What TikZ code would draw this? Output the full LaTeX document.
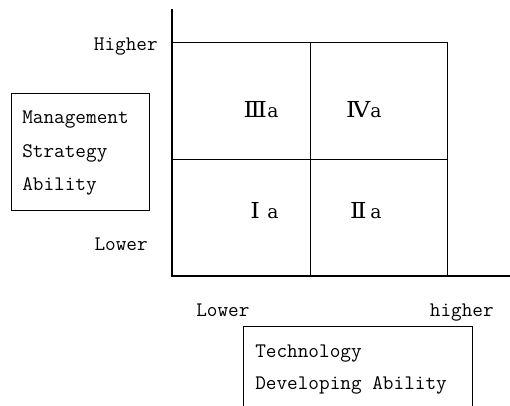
\documentclass[tikz,border=0pt]{standalone}
\usepackage{fontspec}
\newfontfamily\quadfont{DejaVu Serif}
\newcommand\quadnum[1]{\makebox[18pt]{\fontsize{16.5}{18}\selectfont\scalebox{1.1}[1]{#1}}}
\tikzset{
  axislabel/.style={font=\fontsize{15.5}{18}\ttfamily, inner sep=0pt},
  quadlabel/.style={font=\fontsize{14}{16}\quadfont, inner sep=0pt},
}
\begin{document}
\begin{tikzpicture}[x=0.75pt,y=0.75pt,yscale=-1,xscale=1]
        \useasboundingbox (0,0) rectangle (510,405);
        \clip (0,0) rectangle (510,405);

        %Shape: Grid [id:quadrants]
        \draw [line width=0.75]  (172,42) rectangle (447,276) ;
        %Straight Lines [id:midV]
        \draw [line width=0.75]  (310,42) -- (310,276) ;
        %Straight Lines [id:midH]
        \draw [line width=0.75]  (172,159) -- (447,159) ;

        %Straight Lines [id:axisY]
        \draw [line width=2.2]  (172,9) -- (172,277) ;
        %Straight Lines [id:axisX]
        \draw [line width=2.2]  (171,276) -- (510,276) ;

        %Shape: Rectangle [id:mgmtBox]
        \draw [line width=0.75]  (11,93) rectangle (149,210) ;
        %Shape: Open Box [id:techBox]
        \draw [line width=0.75]  (243,410) -- (243,326) -- (472,326) -- (472,410) ;

        % Text Node
        \node [axislabel, anchor=base east] (hiY) at (158,50) {Higher};
        % Text Node
        \node [axislabel, anchor=base east] (loY) at (148,250) {Lower};
        % Text Node
        \node [axislabel, anchor=base west] (loX) at (196,316) {Lower};
        % Text Node
        \node [axislabel, anchor=base east] (hiX) at (494,316) {higher};

        % Text Node
        \node [axislabel, anchor=base west] (mgmt1) at (22,123) {Management};
        % Text Node
        \node [axislabel, anchor=base west] (mgmt2) at (22,157) {Strategy};
        % Text Node
        \node [axislabel, anchor=base west] (mgmt3) at (22,190) {Ability};

        % Text Node
        \node [axislabel, anchor=base west] (tech1) at (255,357) {Technology};
        % Text Node
        \node [axislabel, anchor=base west] (tech2) at (255,389) {Developing Ability};

        % Text Node
        \node [quadlabel, anchor=base west] (q3) at (243,117) {\quadnum{Ⅲ}a};
        % Text Node
        \node [quadlabel, anchor=base west] (q4) at (346,117) {\quadnum{Ⅳ}a};
        % Text Node
        \node [quadlabel, anchor=base west] (q1) at (243,218) {\quadnum{Ⅰ}a};
        % Text Node
        \node [quadlabel, anchor=base west] (q2) at (346,218) {\quadnum{Ⅱ}a};
\end{tikzpicture}
\end{document}
